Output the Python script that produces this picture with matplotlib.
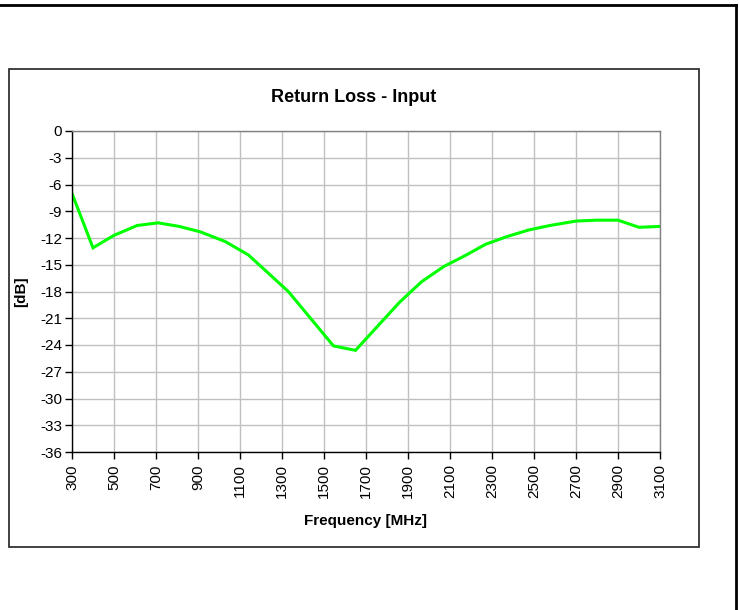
import matplotlib.pyplot as plt
from matplotlib.patches import Rectangle
from matplotlib.lines import Line2D

plt.rcParams['font.family'] = ['Liberation Sans', 'DejaVu Sans']
plt.rcParams['axes.unicode_minus'] = False

freq_mhz = [300, 400, 500, 610, 710, 810, 910, 1030, 1140, 1330, 1545, 1650,
            1860, 1965, 2070, 2170, 2270, 2370, 2475, 2575, 2700, 2800, 2900,
            3000, 3100]
loss_db = [-7.0, -13.1, -11.7, -10.6, -10.3, -10.7, -11.3, -12.4, -13.9, -18.0,
           -24.1, -24.6, -19.2, -16.9, -15.2, -14.0, -12.7, -11.85, -11.1,
           -10.6, -10.1, -10.0, -10.0, -10.8, -10.7]

x_ticks = list(range(300, 3101, 200))
y_ticks = list(range(-36, 1, 3))

W, H = 739, 610
fig = plt.figure(figsize=(W / 100, H / 100), dpi=100)

# outer frame (only top and right edges visible)
fig.add_artist(Line2D([0, 736 / W], [1 - 5 / H, 1 - 5 / H], color='black', lw=2,
                      transform=fig.transFigure))
fig.add_artist(Line2D([736 / W, 736 / W], [0, 1 - 5 / H], color='black', lw=2,
                      transform=fig.transFigure))
# chart box
fig.add_artist(Rectangle((9 / W, 1 - 547 / H), 690 / W, 478 / H, fill=False,
                         edgecolor='#333333', lw=1.3, transform=fig.transFigure))

ax = fig.add_axes([72 / W, 1 - 452 / H, (660 - 72) / W, (452 - 131) / H])
ax.plot(freq_mhz, loss_db, color='#00ff00', lw=2.2, solid_joinstyle='miter')

ax.set_xlim(300, 3100)
ax.set_ylim(-36, 0)
ax.set_xticks(x_ticks)
ax.set_yticks(y_ticks)
ax.tick_params(axis='x', labelrotation=90, labelsize=11, length=5, width=1, pad=4)
ax.tick_params(axis='y', labelsize=11, length=5, width=1, pad=2)
ax.grid(True, color='#c0c0c0', lw=1)
ax.set_axisbelow(True)
for side in ('top', 'right'):
    ax.spines[side].set_color('#808080')
    ax.spines[side].set_linewidth(1)
for side in ('left', 'bottom'):
    ax.spines[side].set_color('black')
    ax.spines[side].set_linewidth(1)

ax.set_xlabel('Frequency [MHz]', fontsize=11, fontweight='bold', labelpad=11)
ax.set_ylabel('[dB]', fontsize=11, fontweight='bold', labelpad=9)
fig.text(354 / W, 1 - 97 / H, 'Return Loss - Input', fontsize=13,
         fontweight='bold', ha='center', va='center')

fig.savefig('out.png', dpi=100)
